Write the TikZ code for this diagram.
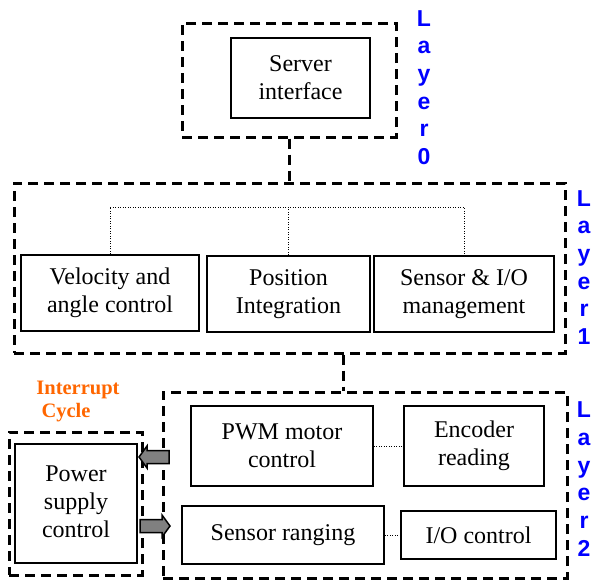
\documentclass[tikz,border=0pt]{standalone}
\usepackage{fontspec}
\setmainfont{Liberation Serif}
\newfontfamily\labelfont{Liberation Sans}
\definecolor{layerblue}{RGB}{0,0,255}
\definecolor{irqorange}{RGB}{255,102,0}
\definecolor{arrowgray}{RGB}{128,128,128}
\tikzset{
  layerbox/.style={draw, line width=3pt, dash pattern=on 10pt off 6pt, minimum width=#1, inner sep=0pt},
  taskbox/.style={draw, line width=1.8pt, align=center, inner sep=0pt,
                  font=\fontsize{24}{28}\selectfont},
  linkdash/.style={line width=3pt, dash pattern=on 10pt off 6pt},
  linkdot/.style={line width=1pt, dash pattern=on 1pt off 1.5pt},
  layerlabel/.style={align=center, text=layerblue, inner sep=0pt,
                     font=\labelfont\bfseries\fontsize{23}{27.7}\selectfont},
  irqtext/.style={text=irqorange, inner sep=0pt, font=\bfseries\fontsize{20.5}{23}\selectfont},
  blockarrow/.style={draw, fill=arrowgray, line width=1.5pt, line join=miter},
  % block arrow pointing right, length 30, drawn from its tail centre
  rightarrow/.pic={\path[blockarrow] (0,-6.5) -- (22,-6.5) -- (22,-11) -- (30,0)
                   -- (22,11) -- (22,6.5) -- (0,6.5) -- cycle;}
}
\begin{document}
\begin{tikzpicture}[x=1pt, y=-1pt]
\useasboundingbox (0,0) rectangle (592,581);

% Layer 0
\node[layerbox=214pt, minimum height=114pt] (L0) at (289,80) {};
\node[taskbox, minimum width=139pt, minimum height=80pt] (srv) at (300.5,78) {Server\\interface};
\node[layerlabel] (lab0) at (424,87.5) {L\\a\\y\\e\\r\\0};

% Layer 1
\node[layerbox=551pt, minimum height=170pt] (L1) at (289.5,268) {};
\node[taskbox, minimum width=178pt, minimum height=76pt] (vel) at (110,293) {Velocity and\\angle control};
\node[taskbox, minimum width=163pt, minimum height=76pt] (pos) at (288.5,294) {Position\\Integration};
\node[taskbox, minimum width=180pt, minimum height=76pt] (sen) at (464,294) {Sensor \& I/O\\management};
\node[layerlabel] (lab1) at (584,267.5) {L\\a\\y\\e\\r\\1};

% Layer 2
\node[layerbox=404pt, minimum height=186pt] (L2) at (365,485) {};
\node[taskbox, minimum width=182pt, minimum height=80pt] (pwm) at (282,446) {PWM motor\\control};
\node[taskbox, minimum width=140pt, minimum height=80pt] (enc) at (474,446) {Encoder\\reading};
\node[taskbox, minimum width=202pt, minimum height=58pt] (rng) at (283,535) {Sensor ranging};
\node[taskbox, minimum width=155pt, minimum height=48pt] (ioc) at (478.5,535) {I/O control};
\node[layerlabel] (lab2) at (584,479) {L\\a\\y\\e\\r\\2};

% Interrupt cycle
\node[irqtext] (irq1) at (78,390) {Interrupt};
\node[irqtext] (irq2) at (66,413) {Cycle};
\node[layerbox=133pt, minimum height=143pt] (PS) at (75.5,503.5) {};
\node[taskbox, minimum width=122pt, minimum height=119pt] (psc) at (76,503.5)
  {\raisebox{6pt}{\begin{tabular}{@{}c@{}}Power\\supply\\control\end{tabular}}};

% Links between layers
\coordinate (tap) at (343,0);
\coordinate (bus) at (0,207);
\draw[linkdash] (L0.south) -- (L0.south |- L1.north);
\draw[linkdash] (L1.south -| tap) -- (L2.north -| tap);

% Links inside the layers
\draw[linkdot] (vel.north) -- (vel.north |- bus) -- (sen.north |- bus) -- (sen.north);
\draw[linkdot] (pos.north) -- (pos.north |- bus);
\draw[linkdot] (pwm.east) -- (enc.west);
\draw[linkdot] (rng.east) -- (ioc.west);

% Interrupt request (into the power box) and return (into layer 2)
\coordinate (irqin) at (169,457);
\coordinate (irqout) at (140,526);
\pic[xscale=-1] at (irqin) {rightarrow};
\pic at (irqout) {rightarrow};
\end{tikzpicture}
\end{document}
